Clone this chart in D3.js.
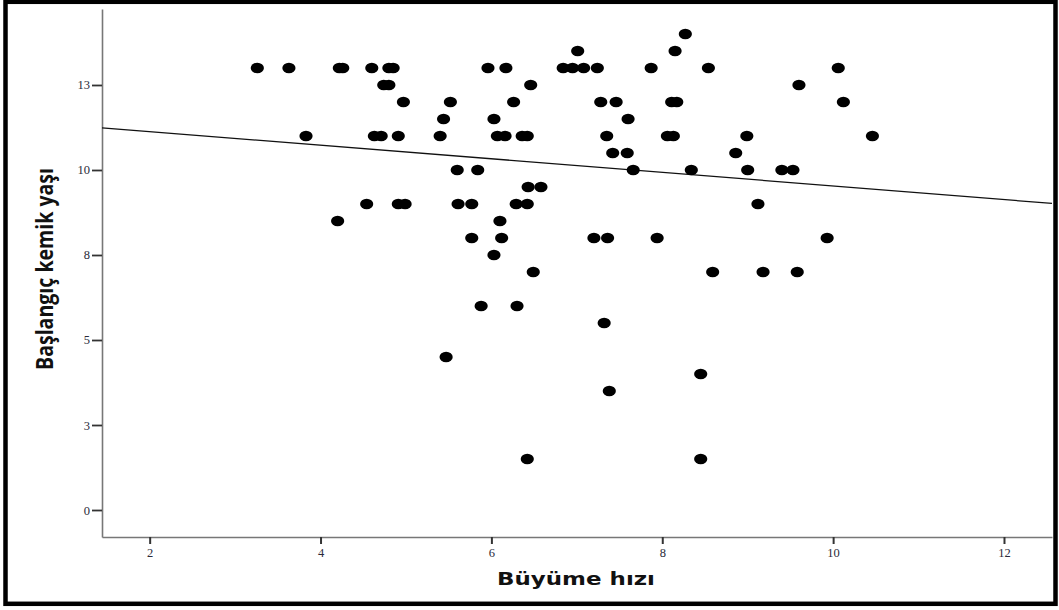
<!DOCTYPE html>
<html>
<head>
<meta charset="utf-8">
<script src="https://cdn.jsdelivr.net/npm/d3@7"></script>
<style>
  html, body { margin: 0; padding: 0; background: #fff; }
  svg { display: block; }
</style>
</head>
<body>
<svg id="chart" width="1059" height="610"></svg>
<script>
// Growth rate (x) and starting bone age (y) for each child
const growthRate = [
  8.27,
  7.01, 8.15,
  3.26, 3.63, 4.22, 4.26, 4.60, 4.80, 4.85, 5.96, 6.17, 6.84, 6.95, 7.08, 7.24, 7.87, 8.54, 10.06,
  4.74, 4.80, 6.46, 9.60,
  4.97, 5.52, 6.26, 7.28, 7.46, 8.11, 8.17, 10.12,
  5.44, 6.03, 7.60,
  3.83, 4.63, 4.71, 4.91, 5.40, 6.07, 6.16, 6.36, 6.42, 7.35, 8.06, 8.13, 8.99, 10.46,
  7.42, 7.59, 8.86,
  5.60, 5.84, 7.66, 8.34, 9.00, 9.40, 9.53,
  6.43, 6.58,
  4.54, 4.91, 4.99, 5.61, 5.77, 6.29, 6.42, 9.12,
  4.20, 6.10,
  5.77, 6.12, 7.20, 7.36, 7.94, 9.93,
  6.03,
  6.49, 8.59, 9.18, 9.58,
  5.88, 6.30,
  7.32,
  5.47,
  8.45,
  7.38,
  6.42, 8.45
];
const boneAge = [
  14.0,
  13.5, 13.5,
  13.0, 13.0, 13.0, 13.0, 13.0, 13.0, 13.0, 13.0, 13.0, 13.0, 13.0, 13.0, 13.0, 13.0, 13.0, 13.0,
  12.5, 12.5, 12.5, 12.5,
  12.0, 12.0, 12.0, 12.0, 12.0, 12.0, 12.0, 12.0,
  11.5, 11.5, 11.5,
  11.0, 11.0, 11.0, 11.0, 11.0, 11.0, 11.0, 11.0, 11.0, 11.0, 11.0, 11.0, 11.0, 11.0,
  10.5, 10.5, 10.5,
  10.0, 10.0, 10.0, 10.0, 10.0, 10.0, 10.0,
  9.5, 9.5,
  9.0, 9.0, 9.0, 9.0, 9.0, 9.0, 9.0, 9.0,
  8.5, 8.5,
  8.0, 8.0, 8.0, 8.0, 8.0, 8.0,
  7.5,
  7.0, 7.0, 7.0, 7.0,
  6.0, 6.0,
  5.5,
  4.5,
  4.0,
  3.5,
  1.5, 1.5
];

// Fitted linear trend: boneAge = intercept + slope * growthRate
const fitIntercept = 11.53;
const fitSlope = -0.20;

// Axis ticks and their printed labels
const xTicks = [2, 4, 6, 8, 10, 12];
const xTickLabels = ["2", "4", "6", "8", "10", "12"];
const yTicks = [0, 2.5, 5, 7.5, 10, 12.5];
const yTickLabels = ["0", "3", "5", "8", "10", "13"];

const xTitle = "Büyüme hızı";
const yTitle = "Başlangıç kemik yaşı";

const svg = d3.select("#chart");
const W = 1059, H = 610;

// Outer frame
svg.append("rect")
  .attr("x", 5.5).attr("y", 1.8)
  .attr("width", 1050).attr("height", 602)
  .attr("fill", "#fff")
  .attr("stroke", "#000")
  .attr("stroke-width", 4.5);

const plot = { left: 102, right: 1052, top: 9, bottom: 537 };

const x = d3.scaleLinear().domain([1.442, 12.562]).range([plot.left, plot.right]);
const y = d3.scaleLinear().domain([-0.794, 14.735]).range([plot.bottom, plot.top]);

// X axis
const xAxis = d3.axisBottom(x)
  .tickValues(xTicks)
  .tickFormat((d, i) => xTickLabels[i])
  .tickSize(7)
  .tickSizeOuter(0)
  .tickPadding(4);
const gx = svg.append("g")
  .attr("transform", `translate(0,${plot.bottom})`)
  .call(xAxis);
gx.select(".domain").attr("stroke", "#777").attr("stroke-width", 1.6);
gx.selectAll(".tick line").attr("stroke", "#333").attr("stroke-width", 2);
gx.selectAll(".tick text")
  .attr("font-family", "'Liberation Serif', 'DejaVu Serif', serif")
  .attr("font-size", 12.5)
  .attr("fill", "#2a2a3a");

// Y axis
const yAxis = d3.axisLeft(y)
  .tickValues(yTicks)
  .tickFormat((d, i) => yTickLabels[i])
  .tickSize(10)
  .tickSizeOuter(0)
  .tickPadding(2);
const gy = svg.append("g")
  .attr("transform", `translate(${plot.left},0)`)
  .call(yAxis);
gy.select(".domain").attr("stroke", "#777").attr("stroke-width", 1.6);
gy.selectAll(".tick line").attr("stroke", "#333").attr("stroke-width", 1.8);
gy.selectAll(".tick text")
  .attr("font-family", "'Liberation Serif', 'DejaVu Serif', serif")
  .attr("font-size", 12.5)
  .attr("fill", "#2a2a3a");

// Trend line across the full x range
const xd = x.domain();
svg.append("line")
  .attr("x1", x(xd[0])).attr("y1", y(fitIntercept + fitSlope * xd[0]))
  .attr("x2", x(xd[1])).attr("y2", y(fitIntercept + fitSlope * xd[1]))
  .attr("stroke", "#111")
  .attr("stroke-width", 1.3);

// Points
const pts = growthRate.map((g, i) => ({ g, b: boneAge[i] }));
svg.append("g").selectAll("ellipse")
  .data(pts)
  .join("ellipse")
  .attr("cx", d => x(d.g))
  .attr("cy", d => y(d.b))
  .attr("rx", 6.6)
  .attr("ry", 5.3)
  .attr("fill", "#000");

// Axis titles
svg.append("text")
  .attr("x", 576).attr("y", 585)
  .attr("text-anchor", "middle")
  .attr("font-family", "'DejaVu Sans', Verdana, sans-serif")
  .attr("font-weight", "bold")
  .attr("font-size", 18)
  .attr("textLength", 158)
  .attr("lengthAdjust", "spacingAndGlyphs")
  .attr("fill", "#111")
  .text(xTitle);

svg.append("text")
  .attr("transform", "translate(53,269) rotate(-90)")
  .attr("text-anchor", "middle")
  .attr("font-family", "'Open Sans', 'Noto Sans', sans-serif")
  .attr("font-weight", "bold")
  .attr("font-size", 24)
  .attr("textLength", 202)
  .attr("lengthAdjust", "spacingAndGlyphs")
  .attr("fill", "#111")
  .text(yTitle);
</script>
</body>
</html>
